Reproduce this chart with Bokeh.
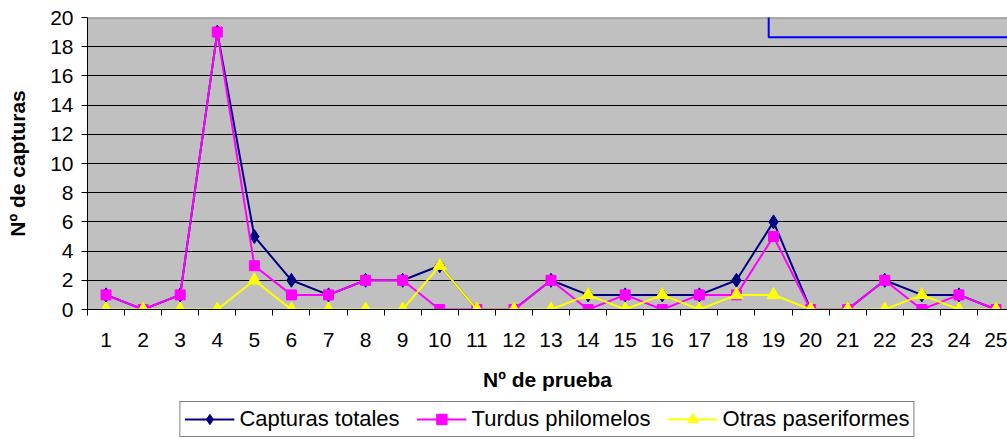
from bokeh.plotting import figure
from bokeh.layouts import column
from bokeh.models import (Range1d, FixedTicker, Legend, LegendItem, BoxAnnotation,
                          Span, Label)
from bokeh.embed import file_html
from bokeh.resources import INLINE

# ---------------- data ----------------
pruebas = list(range(1, 26))
capturas_totales = [1, 0, 1, 19, 5, 2, 1, 2, 2, 3, 0, 0, 2, 1, 1, 1, 1, 2, 6, 0, 0, 2, 1, 1, 0]
turdus_philomelos = [1, 0, 1, 19, 3, 1, 1, 2, 2, 0, 0, 0, 2, 0, 1, 0, 1, 1, 5, 0, 0, 2, 0, 1, 0]
otras_paseriformes = [0, 0, 0, 0, 2, 0, 0, 0, 0, 3, 0, 0, 0, 1, 0, 1, 0, 1, 1, 0, 0, 0, 1, 0, 0]
y_ticks = list(range(0, 21, 2))
series_names = ["Capturas totales", "Turdus philomelos", "Otras paseriformes"]
x_title = "Nº de prueba"
y_title = "Nº de capturas"
box_text = "2002/03"

FONT = "Liberation Sans"
NAVY = "#000080"
MAGENTA = "#FF00FF"
YELLOW = "#FFFF00"

series = [
    (capturas_totales, NAVY, "diamond", 14),
    (turdus_philomelos, MAGENTA, "square", 10),
    (otras_paseriformes, YELLOW, "triangle", 13),
]

p = figure(width=1007, height=397, output_backend="svg", toolbar_location=None,
           x_range=Range1d(0.5, 25.31), y_range=Range1d(0, 20),
           min_border_left=87, min_border_right=0, min_border_top=17,
           min_border_bottom=88)

p.background_fill_color = "#C0C0C0"
p.border_fill_color = "white"
p.outline_line_color = None

# grid
p.xgrid.visible = False
p.ygrid.ticker = FixedTicker(ticks=y_ticks[1:-1])
p.ygrid.grid_line_color = "black"
p.ygrid.grid_line_width = 1

# top border of plot area
p.add_layout(Span(location=y_ticks[-1], dimension="width", line_color="#808080",
                  line_width=2))

# y axis
p.yaxis.ticker = FixedTicker(ticks=y_ticks)
p.yaxis.axis_line_color = "black"
p.yaxis.major_tick_out = 6
p.yaxis.major_tick_in = 0
p.yaxis.minor_tick_line_color = None
p.yaxis.major_label_standoff = 8
p.yaxis.major_label_text_font = FONT
p.yaxis.major_label_text_font_size = "21px"
p.yaxis.major_label_text_color = "black"
p.yaxis.axis_label = y_title
p.yaxis.axis_label_text_font = FONT
p.yaxis.axis_label_text_font_size = "21px"
p.yaxis.axis_label_text_font_style = "bold"
p.yaxis.axis_label_text_color = "black"
p.yaxis.axis_label_standoff = 18

# x axis (category boundaries as minor ticks)
boundaries = [c - 0.5 for c in pruebas] + [pruebas[-1] + 0.5]
p.xaxis.ticker = FixedTicker(ticks=pruebas, minor_ticks=boundaries)
p.xaxis.axis_line_color = "black"
p.xaxis.major_tick_line_color = None
p.xaxis.major_tick_out = 6
p.xaxis.major_tick_in = 0
p.xaxis.minor_tick_line_color = "black"
p.xaxis.minor_tick_out = 6
p.xaxis.minor_tick_in = 0
p.xaxis.major_label_standoff = 17
p.xaxis.major_label_text_font = FONT
p.xaxis.major_label_text_font_size = "21px"
p.xaxis.major_label_text_color = "black"
p.xaxis.axis_label = x_title
p.xaxis.axis_label_text_font = FONT
p.xaxis.axis_label_text_font_size = "21px"
p.xaxis.axis_label_text_font_style = "bold"
p.xaxis.axis_label_text_color = "black"
p.xaxis.axis_label_standoff = 18

# series
for vals, color, marker, size in series:
    p.line(pruebas, vals, line_color=color, line_width=2)
    p.scatter(pruebas, vals, marker=marker, size=size,
              fill_color=color, line_color=color)

# text box at top right (mostly cropped in the original)
p.add_layout(BoxAnnotation(left=18.87, right=26, bottom=18.64, top=22,
                           fill_alpha=0, line_color="#0000FF", line_alpha=1,
                           line_width=2))
p.add_layout(Label(x=22.24, y=20.15, text=box_text, text_align="center",
                   text_baseline="bottom", text_color="#0000FF",
                   text_font=FONT, text_font_size="24px"))

# ---------------- legend strip (its glyphs lie outside its visible range) ----
lg = figure(width=1007, height=42, output_backend="svg", toolbar_location=None,
            x_range=Range1d(100, 101), y_range=Range1d(100, 101),
            x_axis_location=None, y_axis_location=None,
            min_border_left=87, min_border_right=0, min_border_top=0,
            min_border_bottom=0)
lg.outline_line_color = None
lg.background_fill_color = "white"
lg.border_fill_color = "white"
lg.xgrid.visible = False
lg.ygrid.visible = False

items = []
for name, (vals, color, marker, size) in zip(series_names, series):
    rl = lg.line(pruebas, vals, line_color=color, line_width=2)
    rs = lg.scatter(pruebas, vals, marker=marker, size=size, fill_color=color,
                    line_color=color)
    items.append(LegendItem(label=name, renderers=[rl, rs]))

legend = Legend(items=items, orientation="horizontal", location="top_center",
                border_line_color="black", border_line_width=1,
                background_fill_color="white", background_fill_alpha=1,
                label_text_font=FONT, label_text_font_size="22px",
                label_text_color="black",
                glyph_width=50, glyph_height=26, label_standoff=5,
                spacing=17, padding=4, margin=4)
lg.add_layout(legend, "center")

layout = column(p, lg, spacing=0)
open("out.html", "w").write(file_html(layout, INLINE))
